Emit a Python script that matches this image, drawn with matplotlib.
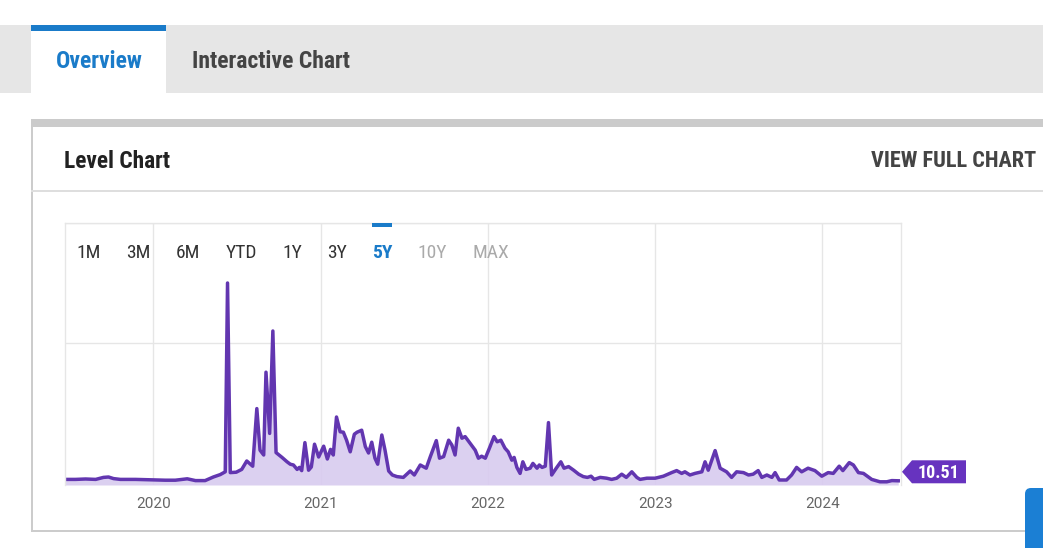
import matplotlib
matplotlib.use("Agg")
import matplotlib.pyplot as plt
import matplotlib.dates as mdates
from matplotlib.patches import Rectangle, Polygon, FancyBboxPatch
from matplotlib.transforms import IdentityTransform
import pandas as pd

# ---------------- data ----------------
dates = [
    "2019-06-23", "2019-07-15", "2019-08-06", "2019-08-28", "2019-09-14", "2019-09-25",
    "2019-10-06", "2019-10-21", "2019-11-23", "2019-12-25", "2020-01-27", "2020-02-18",
    "2020-03-15", "2020-04-02", "2020-04-23", "2020-05-11", "2020-05-26", "2020-06-06",
    "2020-06-11", "2020-06-17", "2020-06-30", "2020-07-12", "2020-07-23", "2020-08-05",
    "2020-08-14", "2020-08-21", "2020-08-29", "2020-09-03", "2020-09-11", "2020-09-18",
    "2020-09-25", "2020-10-08", "2020-10-19", "2020-10-26", "2020-11-02", "2020-11-10",
    "2020-11-15", "2020-11-20", "2020-11-27", "2020-12-05", "2020-12-11", "2020-12-18",
    "2020-12-27", "2021-01-07", "2021-01-15", "2021-01-22", "2021-01-28", "2021-02-04",
    "2021-02-12", "2021-02-19", "2021-02-26", "2021-03-06", "2021-03-15", "2021-03-21",
    "2021-03-31", "2021-04-08", "2021-04-15", "2021-04-22", "2021-04-29", "2021-05-05",
    "2021-05-14", "2021-05-21", "2021-05-29", "2021-06-06", "2021-06-16", "2021-06-30",
    "2021-07-15", "2021-07-24", "2021-08-06", "2021-08-19", "2021-08-28", "2021-09-10",
    "2021-09-17", "2021-09-26", "2021-10-07", "2021-10-14", "2021-10-21", "2021-10-28",
    "2021-11-05", "2021-11-12", "2021-11-23", "2021-12-04", "2021-12-11", "2021-12-18",
    "2021-12-26", "2022-01-04", "2022-01-14", "2022-01-21", "2022-01-29", "2022-02-07",
    "2022-02-14", "2022-02-22", "2022-02-27", "2022-03-05", "2022-03-12", "2022-03-18",
    "2022-03-25", "2022-04-03", "2022-04-09", "2022-04-18", "2022-04-23", "2022-04-29",
    "2022-05-06", "2022-05-13", "2022-05-20", "2022-05-30", "2022-06-09", "2022-06-16",
    "2022-06-26", "2022-07-07", "2022-07-18", "2022-07-28", "2022-08-06", "2022-08-14",
    "2022-08-21", "2022-09-03", "2022-09-17", "2022-09-28", "2022-10-09", "2022-10-20",
    "2022-10-30", "2022-11-11", "2022-11-22", "2022-11-29", "2022-12-14", "2023-01-01",
    "2023-01-19", "2023-02-06", "2023-02-17", "2023-02-28", "2023-03-07", "2023-03-18",
    "2023-03-29", "2023-04-13", "2023-04-20", "2023-04-27", "2023-05-12", "2023-05-23",
    "2023-06-06", "2023-06-17", "2023-06-28", "2023-07-13", "2023-07-24", "2023-08-03",
    "2023-08-14", "2023-08-22", "2023-09-02", "2023-09-13", "2023-09-20", "2023-09-29",
    "2023-10-15", "2023-10-26", "2023-11-06", "2023-11-17", "2023-12-01", "2023-12-16",
    "2023-12-31", "2024-01-14", "2024-01-25", "2024-02-07", "2024-02-15", "2024-02-29",
    "2024-03-09", "2024-03-20", "2024-03-31", "2024-04-18", "2024-05-06", "2024-05-21",
    "2024-06-01", "2024-06-15",
]
level = [
    14, 14, 15, 14, 19, 20,
    16, 14, 14, 13, 12, 12,
    15.5, 11, 11, 20, 26, 33,
    505, 31, 32, 39, 60, 47,
    191, 87, 75, 282, 129, 385,
    81, 69, 58, 52, 50, 39,
    44, 36, 106, 37, 45, 102,
    70, 97, 65, 89, 75, 170,
    133, 132, 112, 83, 127, 132,
    137, 96, 80, 107, 67, 52,
    125, 87, 35, 25, 21, 19,
    35, 25, 50, 42, 71, 111,
    67, 71, 112, 100, 75, 142,
    117, 121, 104, 87, 67, 72,
    67, 92, 121, 108, 112, 92,
    83, 62, 69, 44, 29, 58,
    39, 42, 54, 42, 50, 44,
    47, 156, 25, 42, 58, 42,
    46, 37, 27, 21, 19, 22,
    14, 19, 17, 14, 17, 27,
    19, 33, 19, 14, 17, 17,
    22, 31, 36, 29, 33, 25,
    29, 33, 58, 37, 86, 42,
    33, 19, 33, 31, 25, 27,
    36, 19, 25, 19, 31, 12.5,
    12.5, 25, 44, 33, 42, 36,
    22, 31, 29, 47, 36, 56,
    50, 31, 29, 14, 8, 8,
    11, 10.51,
]
year_labels = ["2020", "2021", "2022", "2023", "2024"]
range_buttons = ["1M", "3M", "6M", "YTD", "1Y", "3Y", "5Y", "10Y", "MAX"]
active_range = "5Y"
disabled_ranges = ["10Y", "MAX"]
tab_labels = ["Overview", "Interactive Chart"]
panel_title = "Level Chart"
panel_link = "VIEW FULL CHART"
x_range = ["2019-06-22", "2024-06-21"]
y_max = 655
grid_levels = [355, 655]

# ---------------- style ----------------
FONT = ["Roboto Condensed", "Roboto", "DejaVu Sans"]
plt.rcParams["font.family"] = FONT
BLUE = "#1a7bc9"
PURPLE_LINE = "#6236b0"
PURPLE_FILL = "#d8cbef"
PURPLE_LABEL = "#6733bf"
GRID = "#e6e6e6"

W, H = 1043, 548
fig = plt.figure(figsize=(W / 100, H / 100), dpi=100)
fig.patch.set_facecolor("white")

# background / page chrome in pixel coordinates
bg = fig.add_axes([0, 0, 1, 1], zorder=0)
bg.set_xlim(0, W)
bg.set_ylim(H, 0)
bg.axis("off")

bg.add_patch(Rectangle((0, 25), W, 68, color="#e6e6e6", lw=0))
bg.add_patch(Rectangle((31, 25), 135, 68, color="white", lw=0))
bg.add_patch(Rectangle((31, 25), 135, 5.5, color=BLUE, lw=0))
bg.text(99, 61, tab_labels[0], color=BLUE, fontsize=17, fontweight="bold",
        ha="center", va="center")
bg.text(192, 61, tab_labels[1], color="#444444", fontsize=17, fontweight="bold",
        ha="left", va="center")

# panel
bg.add_patch(Rectangle((31, 119), W - 31, 8, color="#cbcbcb", lw=0))
bg.add_patch(Rectangle((31, 127), 1.5, 404, color="#cccccc", lw=0))
bg.add_patch(Rectangle((31, 530), W - 31, 1.5, color="#cccccc", lw=0))
bg.add_patch(Rectangle((31, 190), W - 31, 2, color="#dedede", lw=0))
bg.text(64, 161, panel_title, color="#222222", fontsize=16.8, fontweight="bold",
        ha="left", va="center")
bg.text(1036, 161, panel_link, color="#444444", fontsize=16, fontweight="bold",
        ha="right", va="center")
bg.add_patch(FancyBboxPatch((1025, 488), 40, 80,
                            boxstyle="round,pad=0,rounding_size=6",
                            color="#1b7fd4", lw=0))

# ---------------- chart ----------------
x = pd.to_datetime(dates)
ax = fig.add_axes([65 / W, (H - 485) / H, 836 / W, 262 / H], zorder=1)
ax.set_facecolor("none")
ax.fill_between(x, 0, level, color=PURPLE_FILL, lw=0, alpha=0.9)
ax.plot(x, level, color=PURPLE_LINE, lw=2.5, solid_joinstyle="round")
ax.set_xlim(pd.Timestamp(x_range[0]), pd.Timestamp(x_range[1]))
ax.set_ylim(0, y_max)

ax.set_yticks(grid_levels)
ax.set_yticklabels([])
ax.set_xticks([pd.Timestamp(f"{y}-01-01") for y in year_labels])
ax.set_xticklabels(year_labels)
ax.tick_params(axis="both", length=0)
ax.tick_params(axis="x", pad=9, labelsize=11, labelcolor="#666666")
for lbl in ax.get_xticklabels():
    lbl.set_family(["Roboto", "DejaVu Sans"])
ax.grid(True, color=GRID, lw=1)
ax.set_axisbelow(True)
for side in ["left", "right", "top"]:
    ax.spines[side].set_color(GRID)
    ax.spines[side].set_linewidth(1)
ax.spines["bottom"].set_visible(False)

# range selector
fg = fig.add_axes([0, 0, 1, 1], zorder=2)
fg.set_xlim(0, W)
fg.set_ylim(H, 0)
fg.axis("off")
fg.patch.set_alpha(0)
btn_x = [89, 138, 188, 241, 292, 337, 382, 432, 491]
for lab, bx in zip(range_buttons, btn_x):
    if lab == active_range:
        col, wt = BLUE, "bold"
        fg.add_patch(Rectangle((bx - 10, 223), 20, 4, color=BLUE, lw=0))
    elif lab in disabled_ranges:
        col, wt = "#aaaaaa", "normal"
    else:
        col, wt = "#333333", "normal"
    fg.text(bx, 253.5, lab, color=col, fontsize=14, fontweight=wt,
            ha="center", va="center")

# last value label
fig.canvas.draw()
last_x = mdates.date2num(x[-1])
px_end = ax.transData.transform((last_x, level[-1]))
right_edge = ax.transAxes.transform((1, 0))[0]
tip_x = right_edge + 1
cy = px_end[1] + 9
poly = Polygon([(tip_x, cy), (tip_x + 10, cy + 11.5), (tip_x + 64, cy + 11.5),
                (tip_x + 64, cy - 11.5), (tip_x + 10, cy - 11.5)],
               closed=True, color=PURPLE_LABEL, lw=0, transform=IdentityTransform(),
               zorder=5)
fig.patches.append(poly)
fig.text((tip_x + 36) / W, (cy - 1) / H, f"{level[-1]:.2f}", color="white",
         fontsize=13, fontweight="bold", ha="center", va="center", zorder=6)

fig.savefig("out.png", dpi=100, facecolor="white")
